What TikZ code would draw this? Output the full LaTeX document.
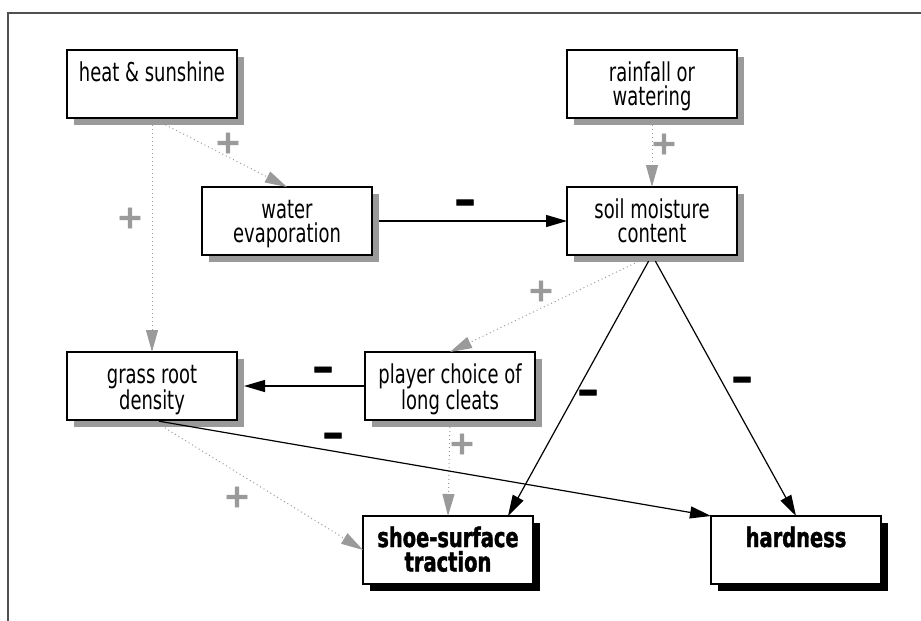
\documentclass[tikz,border=0pt]{standalone}
\usepackage{fontspec}
\usetikzlibrary{arrows.meta,shadows}
\newfontfamily\boxfont[FakeStretch=0.69]{DejaVu Sans}
\newfontfamily\keyfont[FakeStretch=0.72,FakeBold=1.5]{DejaVu Sans Bold}
\newfontfamily\signfont[FakeBold=2]{DejaVu Sans Bold}
\definecolor{lgray}{HTML}{9A9A9A}
\definecolor{framegray}{HTML}{505050}
\newcommand\bx[2]{\parbox[c][68pt][t]{170pt}{\centering\fontsize{#1}{24.5}\selectfont\rule{0pt}{31pt}#2\par}}
\tikzset{
  basebox/.style={draw=black, line width=1.2pt, fill=white, inner sep=0pt, outer sep=0pt, anchor=north west},
  box/.style={basebox, font=\boxfont, drop shadow={shadow xshift=7pt, shadow yshift=-7pt, fill=lgray, opacity=1}},
  keybox/.style={basebox, font=\keyfont, drop shadow={shadow xshift=7pt, shadow yshift=-7pt, fill=black, opacity=1}},
  posarrow/.style={draw=lgray, line width=1pt, dash pattern=on 1pt off 3pt, -{Triangle[length=22pt,width=12pt,fill=lgray]}},
  negarrow/.style={draw=black, line width=1.2pt, -{Triangle[length=21pt,width=12pt]}},
  plus/.style={text=lgray, inner sep=0pt, font=\signfont\fontsize{32}{32}\selectfont},
  minus/.style={text=black, inner sep=0pt, font=\signfont\fontsize{42}{42}\selectfont}
}
\begin{document}
\begin{tikzpicture}[x=1pt, y=-1pt]
\useasboundingbox (0,0) rectangle (921,621);
\draw[framegray, line width=2pt] (921,13) -- (8,13) -- (8,621);

\node[box] (heat) at (67,50) {\bx{26}{heat \& sunshine}};
\node[box] (rain) at (567,50) {\bx{26}{rainfall or\\watering}};
\node[box] (water) at (202,187) {\bx{26}{water\\evaporation}};
\node[box] (soil) at (567,187) {\bx{26}{soil moisture\\content}};
\node[box] (grass) at (67,352) {\bx{26}{grass root\\density}};
\node[box] (player) at (365,352) {\bx{26}{player choice of\\long cleats}};
\node[keybox] (shoe) at (363,516) {\bx{27}{shoe-surface\\traction}};
\node[keybox] (hard) at (711,516) {\bx{27}{hardness}};

\draw[posarrow, shorten <=7pt] (heat.south) -- (water.north);
\draw[posarrow, shorten <=7pt] (heat.south) -- (grass.north);
\draw[posarrow, shorten <=7pt] (rain.south) -- (soil.north);
\draw[negarrow, shorten <=7pt] (water.east) -- (soil.west);
\draw[posarrow, shorten <=7pt] (soil.south) -- (player.north);
\draw[negarrow, shorten <=7pt] (soil.south) -- ([xshift=-25pt]shoe.north east);
\draw[negarrow, shorten <=7pt] (soil.south) -- (hard.north);
\draw[negarrow, shorten >=7pt] (player.west) -- (grass.east);
\draw[posarrow, shorten <=7pt] (player.south) -- (shoe.north);
\draw[negarrow, shorten <=7pt] (grass.south) -- (hard.north west);
\draw[posarrow, shorten <=7pt] (grass.south) -- (shoe.west);

\node[plus] (p1) at (228,143) {+};
\node[plus] (p2) at (130,218) {+};
\node[plus] (p3) at (664,144) {+};
\node[minus] (m1) at (465,207) {–};
\node[plus] (p4) at (541,291) {+};
\node[minus] (m2) at (588,397) {–};
\node[minus] (m3) at (742,384) {–};
\node[minus] (m4) at (323,374) {–};
\node[plus] (p5) at (462,444) {+};
\node[minus] (m5) at (333,440) {–};
\node[plus] (p6) at (237,497) {+};
\end{tikzpicture}
\end{document}
